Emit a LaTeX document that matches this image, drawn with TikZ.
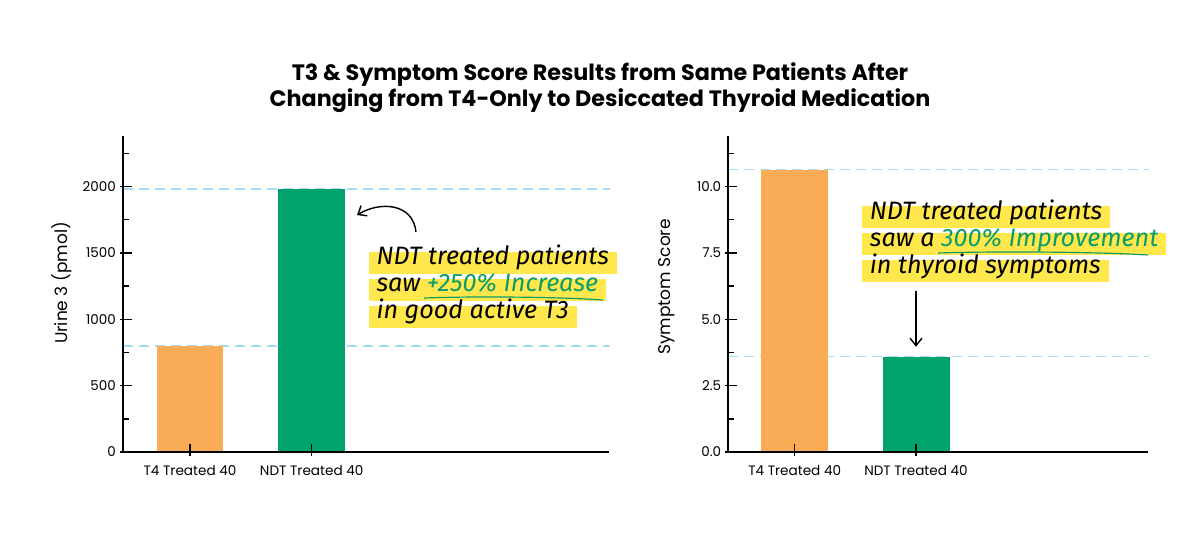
\documentclass[tikz,border=0pt]{standalone}
\usepackage{fontspec}
\setmainfont{Poppins}
\newfontfamily\handfont{Fira Sans}
\usetikzlibrary{arrows.meta,positioning}

\definecolor{barorange}{HTML}{FAAB55}
\definecolor{bargreen}{HTML}{00A36E}
\definecolor{hiyellow}{HTML}{FFE74C}
\definecolor{guideblue}{HTML}{A9DCF4}
\definecolor{notegreen}{HTML}{0A9C6A}

\tikzset{
  axisline/.style={line width=1.7pt, line cap=rect},
  guide/.style={guideblue, line width=1.4pt, dash pattern=on 0.3cm off 0.18cm},
  ticklabel/.style={anchor=east, inner sep=0pt, font=\fontsize{11.5}{12}\selectfont},
  catlabel/.style={anchor=north, inner sep=0pt, font=\fontsize{11.6}{12}\selectfont},
  axislabel/.style={rotate=90, inner sep=0pt, font=\fontsize{14.5}{15}\selectfont},
  noteline/.style={fill=hiyellow, inner xsep=0.24cm, inner ysep=0pt,
    text height=0.39cm, text depth=0.27cm,
    font=\handfont\itshape\fontsize{21.5}{22}\selectfont},
  notearrow/.style={line width=1.2pt, -{Straight Barb[length=0.22cm,width=0.36cm]}},
}

\begin{document}
\begin{tikzpicture}[x=0.03cm, y=-0.03cm]
    \useasboundingbox (0,0) rectangle (1201,551);
    \fill[white] (0,0) rectangle (1201,551);

    % Title
    \node[font=\bfseries\fontsize{19}{19}\selectfont] (title1) at (600,75)
        {T3 \& Symptom Score Results from Same Patients After};
    \node[font=\bfseries\fontsize{19}{19}\selectfont] (title2) at (600,101)
        {Changing from T4-Only to Desiccated Thyroid Medication};

    %%%%% Left chart: Urine T3
    \pgfmathsetmacro {\ox}{123}       %origin x
    \pgfmathsetmacro {\oy}{452}       %origin y
    \pgfmathsetmacro {\sy}{66.4/500}  %px per pmol

    \draw[guide] (\ox,\oy-1980*\sy) -- (610,\oy-1980*\sy);   % NDT level
    \draw[guide] (\ox,\oy-796*\sy) -- (610,\oy-796*\sy);     % T4 level

    \fill[barorange] (156.7,\oy) rectangle (223.3,\oy-796*\sy);
    \fill[bargreen]  (278.3,\oy) rectangle (345,\oy-1980*\sy);
    \coordinate (lbar2) at (345,\oy-1980*\sy);

    %Loop for major and minor ticks
    \foreach \v in {0,500,...,2000} {
        \draw[line width=1.2pt] (\ox-3,\oy-\v*\sy) -- ++(12,0);
        \node[ticklabel] at (\ox-7,\oy-\v*\sy) {\v};
    }
    \foreach \v in {250,750,...,2250} {
        \draw[line width=1.2pt] (\ox,\oy-\v*\sy) -- ++(6,0);
    }
    \draw[axisline] (\ox,137) -- (\ox,\oy) -- (608,\oy);   % axes

    \foreach \x/\lab in {190/T4 Treated 40, 311.7/NDT Treated 40} {
        \draw[line width=1.2pt] (\x,\oy-8) -- (\x,\oy+4);
        \node[catlabel] at (\x,465) {\lab};
    }
    \node[axislabel] (lylab) at (62,283) {Urine 3 (pmol)};

    % Note
    \node[noteline, anchor=base west] (nl1) at (368.3,264.7) {NDT treated patients};
    \node[noteline, below=0.14cm of nl1.south west, anchor=north west] (nl2)
        {saw {\color{notegreen}+250\% Increase}};
    \node[noteline, below=0.14cm of nl2.south west, anchor=north west] (nl3)
        {in good active T3};
    \draw[notegreen, line width=1pt] (424,298) .. controls (480,296) and (560,297) .. (603,300);

    \coordinate (lnote) at (416,232);
    \draw[notearrow] (lnote) .. controls (413,203) and (380,201) .. ([xshift=0.36cm,yshift=-0.78cm]lbar2);

    %%%%% Right chart: symptom score
    \pgfmathsetmacro {\ox}{728.3}
    \pgfmathsetmacro {\sy}{66.4/2.5}  %px per score unit

    \draw[guide] (\ox,\oy-10.63*\sy) -- (1149,\oy-10.63*\sy);
    \draw[guide] (\ox,\oy-3.59*\sy) -- (1149,\oy-3.59*\sy);

    \fill[barorange] (761,\oy) rectangle (828.3,\oy-10.63*\sy);
    \fill[bargreen]  (882.7,\oy) rectangle (950,\oy-3.59*\sy);
    \coordinate (rbar2) at (916,\oy-3.59*\sy);

    \foreach \v/\lab in {0/0.0,2.5/2.5,5/5.0,7.5/7.5,10/10.0} {
        \draw[line width=1.2pt] (\ox-3,\oy-\v*\sy) -- ++(12,0);
        \node[ticklabel] at (\ox-7,\oy-\v*\sy) {\lab};
    }
    \foreach \v in {1.25,3.75,6.25,8.75,11.25} {
        \draw[line width=1.2pt] (\ox,\oy-\v*\sy) -- ++(6,0);
    }
    \draw[axisline] (\ox,137) -- (\ox,\oy) -- (1146.7,\oy);

    \foreach \x/\lab in {794.7/T4 Treated 40, 916/NDT Treated 40} {
        \draw[line width=1.2pt] (\x,\oy-8) -- (\x,\oy+4);
        \node[catlabel] at (\x,465) {\lab};
    }
    \node[axislabel] (rylab) at (666.7,287) {Symptom Score};

    % Note
    \node[noteline, anchor=base west] (rl1) at (861.7,219) {NDT treated patients};
    \node[noteline, below=0.14cm of rl1.south west, anchor=north west] (rl2)
        {saw a {\color{notegreen}300\% Improvement}};
    \node[noteline, below=0.14cm of rl2.south west, anchor=north west] (rl3)
        {in thyroid symptoms};
    \draw[notegreen, line width=1pt] (938,253) .. controls (1000,251) and (1100,252) .. (1148,255);

    \draw[notearrow] (rbar2 |- rl3.south) ++(0,8) -- ([yshift=0.3cm]rbar2);
\end{tikzpicture}
\end{document}
